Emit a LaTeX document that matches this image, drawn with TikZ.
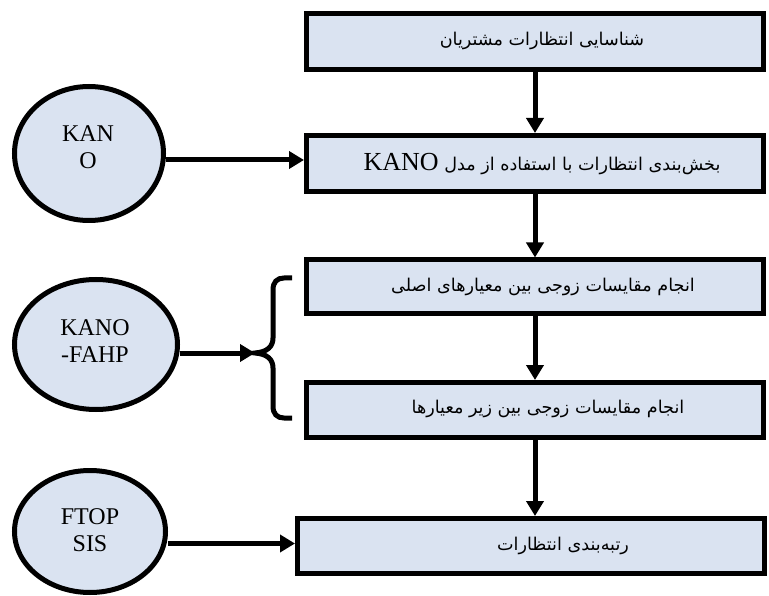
\documentclass[tikz,border=0pt]{standalone}
\usepackage{fontspec}
\setmainfont{Liberation Serif}
\newfontfamily\fa[Script=Arabic]{DejaVu Sans}
\TeXXeTstate=1
\usetikzlibrary{arrows.meta,shapes.geometric}
\definecolor{fillblue}{RGB}{218,227,241}
\begin{document}
\begin{tikzpicture}[x=1pt,y=-1pt,
  box/.style={draw=black,line width=5pt,fill=fillblue,minimum width=457pt,minimum height=56pt,inner sep=0pt},
  oval/.style={ellipse,draw=black,line width=5pt,fill=fillblue,inner sep=0pt},
  ovaltext/.style={align=center,inner sep=0pt,font=\fontsize{24}{27}\selectfont},
  fatext/.style={inner sep=0pt,font=\fa\fontsize{17.6}{21}\selectfont},
  arr/.style={line width=5pt,-{Triangle[length=15pt,width=17pt]}},
  bracestyle/.style={line width=5pt,line cap=butt}]
\useasboundingbox (0,0) rectangle (769,596);
% boxes
\node[box] (b1) at (535,41.5) {};
\node[box] (b2) at (535,163.5) {};
\node[box,minimum height=54pt] (b3) at (535,287) {};
\node[box,minimum height=55pt] (b4) at (535,410) {};
\node[box,minimum width=467pt,minimum height=55pt] (b5) at (531,546) {};
% box texts
\node[fatext] (t1) at (542,41) {\beginR شناسایی انتظارات مشتریان\endR};
\node[fatext] (t2) at (542,164) {\beginR بخش‌بندی انتظارات با استفاده از مدل {\rmfamily\fontsize{26}{26}\selectfont\beginL KANO\endL}\endR};
\node[fatext] (t3) at (543,287) {\beginR انجام مقایسات زوجی بین معیارهای اصلی\endR};
\node[fatext] (t4) at (548,409) {\beginR انجام مقایسات زوجی بین زیر معیارها\endR};
\node[fatext] (t5) at (563,546) {\beginR رتبه‌بندی انتظارات\endR};
% ovals
\node[oval,minimum width=149pt,minimum height=134pt] (c1) at (89,153.5) {};
\node[ovaltext] (c1t) at (88,147) {KAN\\O};
\node[oval,minimum width=163pt,minimum height=130pt] (c2) at (96,344.5) {};
\node[ovaltext] (c2t) at (95,341.5) {KANO\\-FAHP};
\node[oval,minimum width=151pt,minimum height=122pt] (c3) at (90,531.5) {};
\node[ovaltext] (c3t) at (90,530.5) {FTOP\\SIS};
% vertical arrows
\draw[arr] (b1) -- (b2);
\draw[arr] (b2) -- (b3);
\draw[arr] (b3) -- (b4);
\draw[arr] (b4.south) -- (b4.south |- b5.north);
% brace
\coordinate (bt) at (255,353);
\draw[bracestyle] (292,278) -- (284,278) .. controls (277,278) and (273,282) .. (273,290) -- (273,338)
  .. controls (273,346) and (268,352) .. (bt) .. controls (268,354) and (273,360) .. (273,368)
  -- (273,406) .. controls (273,414) and (277,418) .. (284,418) -- (292,418);
% side arrows
\draw[arr] ([yshift=-6.5pt]c1.east) -- ([yshift=-6.5pt]c1.east -| b2.west);
\draw[arr] (bt -| c2.east) -- (bt);
\draw[arr] ([yshift=-12pt]c3.east) -- ([yshift=-12pt]c3.east -| b5.west);
\end{tikzpicture}
\end{document}
